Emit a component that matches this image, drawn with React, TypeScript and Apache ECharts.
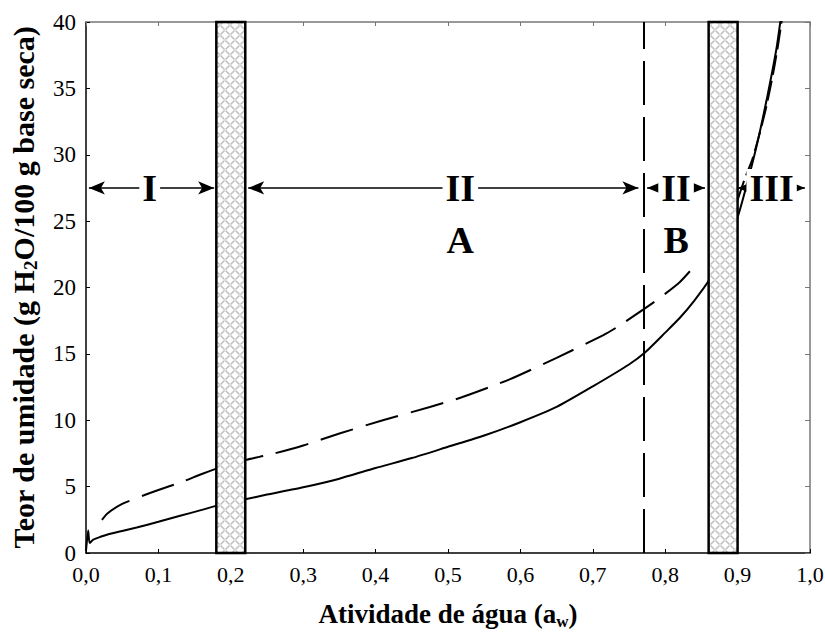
import React, { useEffect, useRef } from "react";
import * as echarts from "echarts";

// ---- data ----
const xTickValues = [0, 0.1, 0.2, 0.3, 0.4, 0.5, 0.6, 0.7, 0.8, 0.9, 1.0];
const yTickValues = [0, 5, 10, 15, 20, 25, 30, 35, 40];

const solidCurve: [number, number][] = [
  [0, 0.15], [0.003, 1.7], [0.005, 0.75], [0.01, 1.0], [0.02, 1.22], [0.03, 1.4],
  [0.05, 1.66], [0.07, 1.92], [0.1, 2.35], [0.13, 2.8], [0.16, 3.25], [0.19, 3.7],
  [0.22, 4.05], [0.25, 4.4], [0.3, 4.95], [0.35, 5.6], [0.4, 6.4], [0.45, 7.15],
  [0.5, 8.0], [0.55, 8.85], [0.6, 9.85], [0.65, 11.0], [0.7, 12.55], [0.75, 14.2],
  [0.772, 15.1], [0.8, 16.6], [0.82, 17.7], [0.84, 19.0], [0.86, 20.5], [0.88, 22.8],
  [0.9, 25.3], [0.912, 27.6], [0.926, 30.6], [0.94, 34.1], [0.949, 36.6], [0.954, 38.1],
  [0.959, 40], [0.962, 41],
];

const dashedCurveLow: [number, number][] = [
  [0.022, 2.5], [0.03, 3.0], [0.05, 3.7], [0.08, 4.35], [0.1, 4.75], [0.13, 5.3],
  [0.16, 5.95], [0.19, 6.55], [0.22, 7.0], [0.26, 7.5], [0.3, 8.1], [0.35, 9.0],
  [0.41, 10.0], [0.475, 11.0], [0.52, 11.75], [0.586, 13.1], [0.65, 14.7],
  [0.714, 16.4], [0.733, 17.0], [0.782, 18.8], [0.82, 20.4], [0.845, 21.9],
];

const dashedCurveHigh: [number, number][] = [
  [0.9, 26.6], [0.91, 28.2], [0.92, 29.6], [0.93, 31.5], [0.94, 33.7], [0.95, 36.4],
  [0.956, 38.3], [0.962, 40.5],
];

const hatchedBands: [number, number][] = [
  [0.18, 0.22],
  [0.86, 0.9],
];
const boundaryLineX = 0.772;

const arrowY = 27.5;
const regionSpans: [number, number][] = [
  [0.004, 0.177],
  [0.224, 0.763],
  [0.775, 0.855],
  [0.9, 0.993],
];

const regionLabels: { text: string; x: number; y: number }[] = [
  { text: "I", x: 0.088, y: 27.5 },
  { text: "II", x: 0.517, y: 27.5 },
  { text: "A", x: 0.517, y: 23.6 },
  { text: "II", x: 0.815, y: 27.5 },
  { text: "B", x: 0.815, y: 23.6 },
  { text: "III", x: 0.947, y: 27.5 },
];

const FONT = "'Liberation Serif', 'Times New Roman', serif";

function makeHatch(): any {
  const s = 10;
  const c = document.createElement("canvas");
  c.width = s;
  c.height = s;
  const ctx = c.getContext("2d")!;
  ctx.fillStyle = "#ffffff";
  ctx.fillRect(0, 0, s, s);
  ctx.strokeStyle = "#c2c2c2";
  ctx.lineWidth = 1.7;
  ctx.lineCap = "round";
  ctx.beginPath();
  ctx.moveTo(1, 4); ctx.lineTo(4, 1);
  ctx.moveTo(6, 9); ctx.lineTo(9, 6);
  ctx.moveTo(6, 1); ctx.lineTo(9, 4);
  ctx.moveTo(1, 6); ctx.lineTo(4, 9);
  ctx.stroke();
  return { image: c.toDataURL(), repeat: "repeat", imageWidth: s, imageHeight: s };
}

export default function App() {
  const ref = useRef<HTMLDivElement>(null);

  useEffect(() => {
    if (!ref.current) return;
    const chart = echarts.init(ref.current, undefined, { renderer: "svg" });
    const hatch = makeHatch();

    const fmtX = (v: number) => v.toFixed(1).replace(".", ",");

    const curveCommon = {
      type: "line",
      showSymbol: false,
      symbol: "none",
      smooth: 0.2,
      z: 2,
      silent: true,
    };

    const option: any = {
      animation: false,
      backgroundColor: "#fff",
      grid: { left: 86, right: 15, top: 22, bottom: 85, outerBoundsMode: "none" },
      xAxis: [
        {
          type: "value",
          min: 0,
          max: 1,
          interval: 0.1,
          position: "bottom",
          name: "{a|Atividade de água (a}{s|w}{a|)}",
          nameLocation: "middle",
          nameGap: 45,
          nameTextStyle: {
            rich: {
              a: { fontFamily: FONT, fontWeight: "bold", fontSize: 27, color: "#000", lineHeight: 32 },
              s: { fontFamily: FONT, fontWeight: "bold", fontSize: 17, color: "#000", verticalAlign: "bottom", lineHeight: 32 },
            },
          },
          axisLine: { show: true, onZero: false, lineStyle: { color: "#000", width: 1.5 } },
          axisTick: { show: true, inside: true, length: 4, lineStyle: { color: "#000" } },
          splitLine: { show: false },
          axisLabel: {
            margin: 10,
            fontFamily: FONT,
            fontSize: 22,
            color: "#000",
            hideOverlap: false,
            formatter: (v: number) => (xTickValues.some((t) => Math.abs(t - v) < 1e-6) ? fmtX(v) : ""),
          },
        },
        {
          type: "value",
          min: 0,
          max: 1,
          interval: 0.1,
          position: "top",
          axisLine: { show: true, onZero: false, lineStyle: { color: "#777", width: 1.5 } },
          axisTick: { show: true, inside: true, length: 4, lineStyle: { color: "#777" } },
          axisLabel: { show: false },
          splitLine: { show: false },
        },
      ],
      yAxis: [
        {
          type: "value",
          min: 0,
          max: 40,
          interval: 5,
          position: "left",
          name: "{a|Teor de umidade (g H}{s|2}{a|O/100 g base seca)}",
          nameLocation: "middle",
          nameRotate: 90,
          nameGap: 46,
          nameTextStyle: {
            rich: {
              a: { fontFamily: FONT, fontWeight: "bold", fontSize: 30, color: "#000", lineHeight: 34 },
              s: { fontFamily: FONT, fontWeight: "bold", fontSize: 19, color: "#000", verticalAlign: "bottom", lineHeight: 34 },
            },
          },
          axisLine: { show: true, onZero: false, lineStyle: { color: "#000", width: 1.5 } },
          axisTick: { show: true, inside: true, length: 4, lineStyle: { color: "#000" } },
          splitLine: { show: false },
          axisLabel: {
            margin: 10,
            fontFamily: FONT,
            fontSize: 23,
            color: "#000",
            formatter: (v: number) => (yTickValues.includes(v) ? String(v) : ""),
          },
        },
        {
          type: "value",
          min: 0,
          max: 40,
          interval: 5,
          position: "right",
          axisLine: { show: true, onZero: false, lineStyle: { color: "#777", width: 1.5 } },
          axisTick: { show: true, inside: true, length: 5, lineStyle: { color: "#777" } },
          axisLabel: { show: false },
          splitLine: { show: false },
        },
      ],
      series: [
        {
          ...curveCommon,
          name: "solid",
          data: solidCurve,
          lineStyle: { color: "#000", width: 2 },
        },
        {
          ...curveCommon,
          name: "dashedLow",
          data: dashedCurveLow,
          lineStyle: { color: "#000", width: 2, type: [34, 13] },
        },
        {
          ...curveCommon,
          name: "dashedHigh",
          data: dashedCurveHigh,
          lineStyle: { color: "#000", width: 2, type: [20, 6] },
        },
        {
          type: "line",
          name: "bands",
          data: [],
          z: 10,
          silent: true,
          markArea: {
            silent: true,
            z: 10,
            itemStyle: { color: hatch, borderColor: "#000", borderWidth: 2.5 },
            label: { show: false },
            data: hatchedBands.map(([a, b]) => [{ xAxis: a }, { xAxis: b }]),
          },
          markLine: {
            silent: true,
            z: 8,
            symbol: ["none", "none"],
            label: { show: false },
            lineStyle: { color: "#000", width: 2, type: [44, 12] },
            data: [{ xAxis: boundaryLineX }],
          },
        },
        {
          type: "line",
          name: "arrows",
          data: [],
          z: 12,
          silent: true,
          markLine: {
            silent: true,
            z: 12,
            symbol: ["arrow", "arrow"],
            symbolSize: [10, 16],
            label: { show: false },
            lineStyle: { color: "#000", width: 1.5, type: "solid" },
            data: regionSpans.map(([a, b]) => [{ coord: [a, arrowY] }, { coord: [b, arrowY] }]),
          },
        },
        {
          type: "scatter",
          name: "labels",
          z: 20,
          silent: true,
          symbolSize: 0,
          itemStyle: { opacity: 1, color: "#000" },
          data: regionLabels.map((l) => ({ name: l.text, value: [l.x, l.y] })),
          label: {
            show: true,
            position: "inside",
            formatter: "{b}",
            fontFamily: FONT,
            fontWeight: "bold",
            fontSize: 38,
            color: "#000",
            textBorderWidth: 0,
            textBorderColor: "transparent",
            backgroundColor: "#fff",
            padding: [0, 3],
          },
        },
      ],
    };

    chart.setOption(option);
    return () => chart.dispose();
  }, []);

  return (
    <div
      ref={ref}
      style={{ position: "absolute", left: 0, top: 0, width: 825, height: 638 }}
    />
  );
}
